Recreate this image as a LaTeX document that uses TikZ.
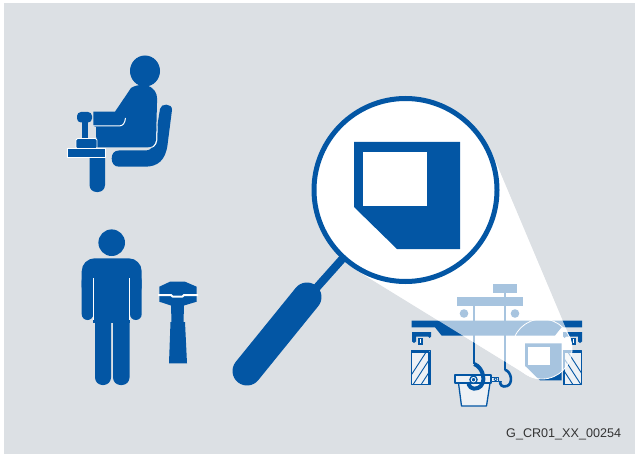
\documentclass[tikz,border=0pt]{standalone}
\usepackage{fontspec}
\setmainfont{Liberation Sans}
\begin{document}
\begin{tikzpicture}[x=1pt,y=-1pt,line join=round]
\definecolor{brandblue}{HTML}{0356A4}
\definecolor{panelgrey}{HTML}{DCE0E4}
\definecolor{paleface}{HTML}{EDF1F5}
\definecolor{textgrey}{HTML}{333333}
\tikzset{
  ink/.style={fill=brandblue},
  gapline/.style={draw=white,line width=1pt},
  rope/.style={draw=brandblue,line width=1.3pt},
  outline/.style={draw=brandblue,line width=1.3pt,fill=paleface},
  faultsign/.pic={
    \fill[brandblue] (0,0) -- (106,0) -- (106,107) -- (43,107) -- (0,65) -- cycle;
    \fill[white] (9,10) rectangle (73,64);
  }
}
\useasboundingbox (0,0) rectangle (639,457);
\fill[white] (0,0) rectangle (639,457);
\fill[panelgrey] (4,3) rectangle (635,454);

% ---------- seated crane operator ----------
\def\seatpath{(160,109) .. controls (160.5,103) and (172.5,103) .. (172,110)
  -- (167.5,145) .. controls (165.5,160) and (158,166.7) .. (145,166.7)
  -- (119,166.7) .. controls (114,166.7) and (111.7,163) .. (111.7,158.5)
  .. controls (111.7,154) and (114,150.5) .. (119,150.5)
  -- (146,150.5) .. controls (151,150.5) and (154,146) .. (155,140) -- cycle}
\def\bodypath{(131,88) .. controls (137,84) and (147,84) .. (152,88)
  .. controls (157,92) and (157.5,97) .. (157,103)
  -- (156,140) .. controls (155.5,145) and (152,147.3) .. (148,147.3)
  -- (96.5,147.3) -- (96,127) -- (93.3,126) -- (93.3,111.7) -- (115,111.7) -- cycle}
\fill[ink] \seatpath;
\begin{scope}
  \clip \seatpath;
  \draw[white,line width=2.6pt] \bodypath;
\end{scope}
\fill[ink] (145,71) ellipse[x radius=15,y radius=15.5];
\fill[ink] \bodypath;
\draw[gapline] (93,126) -- (119,126) .. controls (123,126) and (125,123) .. (125.5,118);
% joystick console
\fill[ink,rounded corners=7pt] (89.5,150) rectangle (105,192);
\fill[ink,rounded corners=4pt] (77,112) rectangle (92,122.5);
\fill[ink] (81.5,121) rectangle (88,140);
\filldraw[ink,draw=white,line width=0.8pt,rounded corners=1.5pt] (76,138.5) rectangle (97,149);
\filldraw[ink,draw=white,line width=0.8pt] (67.3,148.5) rectangle (105,157.3);

% ---------- standing worker ----------
\fill[ink] (111.7,242.7) circle[radius=13.3];
\fill[ink,rounded corners=13pt] (81.7,258.3) rectangle (141.7,300);
\fill[ink,rounded corners=5.8pt] (81.7,275) rectangle (93.3,320);
\fill[ink,rounded corners=5.8pt] (130,275) rectangle (141.7,320);
\fill[ink] (93.3,265) rectangle (130,323);
\fill[ink,rounded corners=7.5pt] (95,305) rectangle (111,385);
\fill[ink,rounded corners=7.5pt] (113,305) rectangle (129.5,385);
\draw[gapline] (93.8,278) -- (93.8,320);
\draw[gapline] (129.5,278) -- (129.5,320);

% ---------- adjustable wrench ----------
\fill[ink] (159.3,286.7) -- (170,281.7) -- (185,281.7) -- (196.7,286.7) -- (196.7,301.7)
  -- (184,305.5) -- (183.5,322) -- (185,322) -- (187,363.3) -- (169,363.3)
  -- (170.5,322) -- (171.5,322) -- (171,305.5) -- (159.3,301.7) -- cycle;
\draw[white,line width=2pt] (158,295) -- (171,295) -- (172.5,296.5) -- (182.5,296.5)
  -- (184,295) -- (198,295);

% ---------- light cone of the magnifier ----------
\coordinate (T1) at (356.3,270.1);
\coordinate (S1) at (526.3,374.6);
\coordinate (S2) at (569.6,337.3);
\coordinate (T2) at (492.1,153.5);
\coordinate (lens) at (542,349);
\def\conepath{(T1) -- (S1) arc[start angle=121.58,end angle=-22.86,radius=30] -- (T2) -- cycle}
\fill[white] \conepath;

% ---------- overhead crane ----------
% trolley
\fill[ink] (457,297) rectangle (523,306);
\fill[ink] (493,284) rectangle (517,293);
\fill[ink] (464,313.5) circle[radius=4.3];
\fill[ink] (515,313.5) circle[radius=4.3];
\draw[rope] (474,306) -- (474,364);
\draw[rope] (505,293) -- (505,370);
% bridge girder
\fill[ink] (411.5,320.5) -- (582,320.5) -- (582,327.3) -- (561.5,327.3) -- (555,335.5)
  -- (441.5,335.5) -- (435,327.3) -- (411.5,327.3) -- cycle;
% end carriages
\fill[ink] (412,332) -- (431,332) -- (431,336.5) -- (429.5,338) -- (428,336.5) -- (416,336.5)
  -- (416,341.5) -- (414,343) -- (412,341.5) -- cycle;
\fill[ink] (418,337.5) rectangle (423,344.5);
\draw[white,line width=0.8pt] (420.5,338.8) -- (420.5,342.5);
\fill[ink] (582,332) -- (563,332) -- (563,336.5) -- (564.5,338) -- (566,336.5) -- (578,336.5)
  -- (578,341.5) -- (580,343) -- (582,341.5) -- cycle;
\fill[ink] (571,337.5) rectangle (576,344.5);
\draw[white,line width=0.8pt] (573.5,338.8) -- (573.5,342.5);
% runway columns
\fill[paleface] (411.7,350.7) rectangle (430,384.7);
\begin{scope}
  \clip (411.7,350.7) rectangle (430,384.7);
  \foreach \k in {0,...,6} \draw[brandblue,line width=0.9pt] ({405+\k*8},384.7) -- ({427+\k*8},350.7);
\end{scope}
\draw[brandblue,line width=0.5pt] (411.7,350.7) rectangle (430,384.7);
\draw[brandblue,line width=2pt] (411.7,351.7) -- (429,351.7) -- (429,384.7);
\fill[paleface] (563.3,350.7) rectangle (581.7,384.7);
\begin{scope}
  \clip (563.3,350.7) rectangle (581.7,384.7);
  \foreach \k in {0,...,6} \draw[brandblue,line width=0.9pt] ({589-\k*8},384.7) -- ({567-\k*8},350.7);
\end{scope}
\draw[brandblue,line width=0.5pt] (563.3,350.7) rectangle (581.7,384.7);
\draw[brandblue,line width=2pt] (580.7,351.7) -- (564.3,351.7) -- (564.3,384.7);
% bucket
\filldraw[outline] (458.5,383) -- (490,383) -- (486.5,406) -- (461.5,406) -- cycle;
\filldraw[outline] (455,375) rectangle (491,383);
\filldraw[outline,line width=1pt] (491,377) rectangle (498,381.6);
\filldraw[fill=white,draw=brandblue,line width=0.8pt] (495.6,379.3) circle[radius=1.6];
% hooks
\draw[brandblue,line width=4pt] (474.3,364) .. controls (484,368) and (487,384) .. (478,388)
  .. controls (472,390.5) and (468,386) .. (468.5,382);
\fill[ink] (473.5,379.7) circle[radius=4.3];
\draw[white,line width=0.8pt] (473.5,379.7) circle[radius=2.3];
\fill[ink] (473.5,379.7) circle[radius=0.9];
\draw[brandblue,line width=2.6pt] (505,369.7) .. controls (512,372) and (513,384) .. (507,386)
  .. controls (502,388) and (499,384) .. (500.5,381);
% magnified detail inside the small lens
\pic[scale=0.346] at (525,343.3) {faultsign};

% translucent veil of the cone
\fill[white,opacity=0.65] \conepath;
\draw[white,line width=0.8pt] (lens) circle[radius=30];

% ---------- magnifying glass ----------
\draw[brandblue,line width=29pt,line cap=round] (307,297) -- (247,371);
\draw[brandblue,line width=8pt] (311,294) -- (352,248);
\filldraw[fill=white,draw=brandblue,line width=5pt] (405.5,190) circle[radius=91.5];
\pic at (354,142) {faultsign};

% ---------- drawing code ----------
\node[anchor=base west,text=textgrey,font=\fontsize{12.6}{14}\selectfont,inner sep=0pt]
  (code) at (506,437) {G\_CR01\_XX\_00254};
\end{tikzpicture}
\end{document}
